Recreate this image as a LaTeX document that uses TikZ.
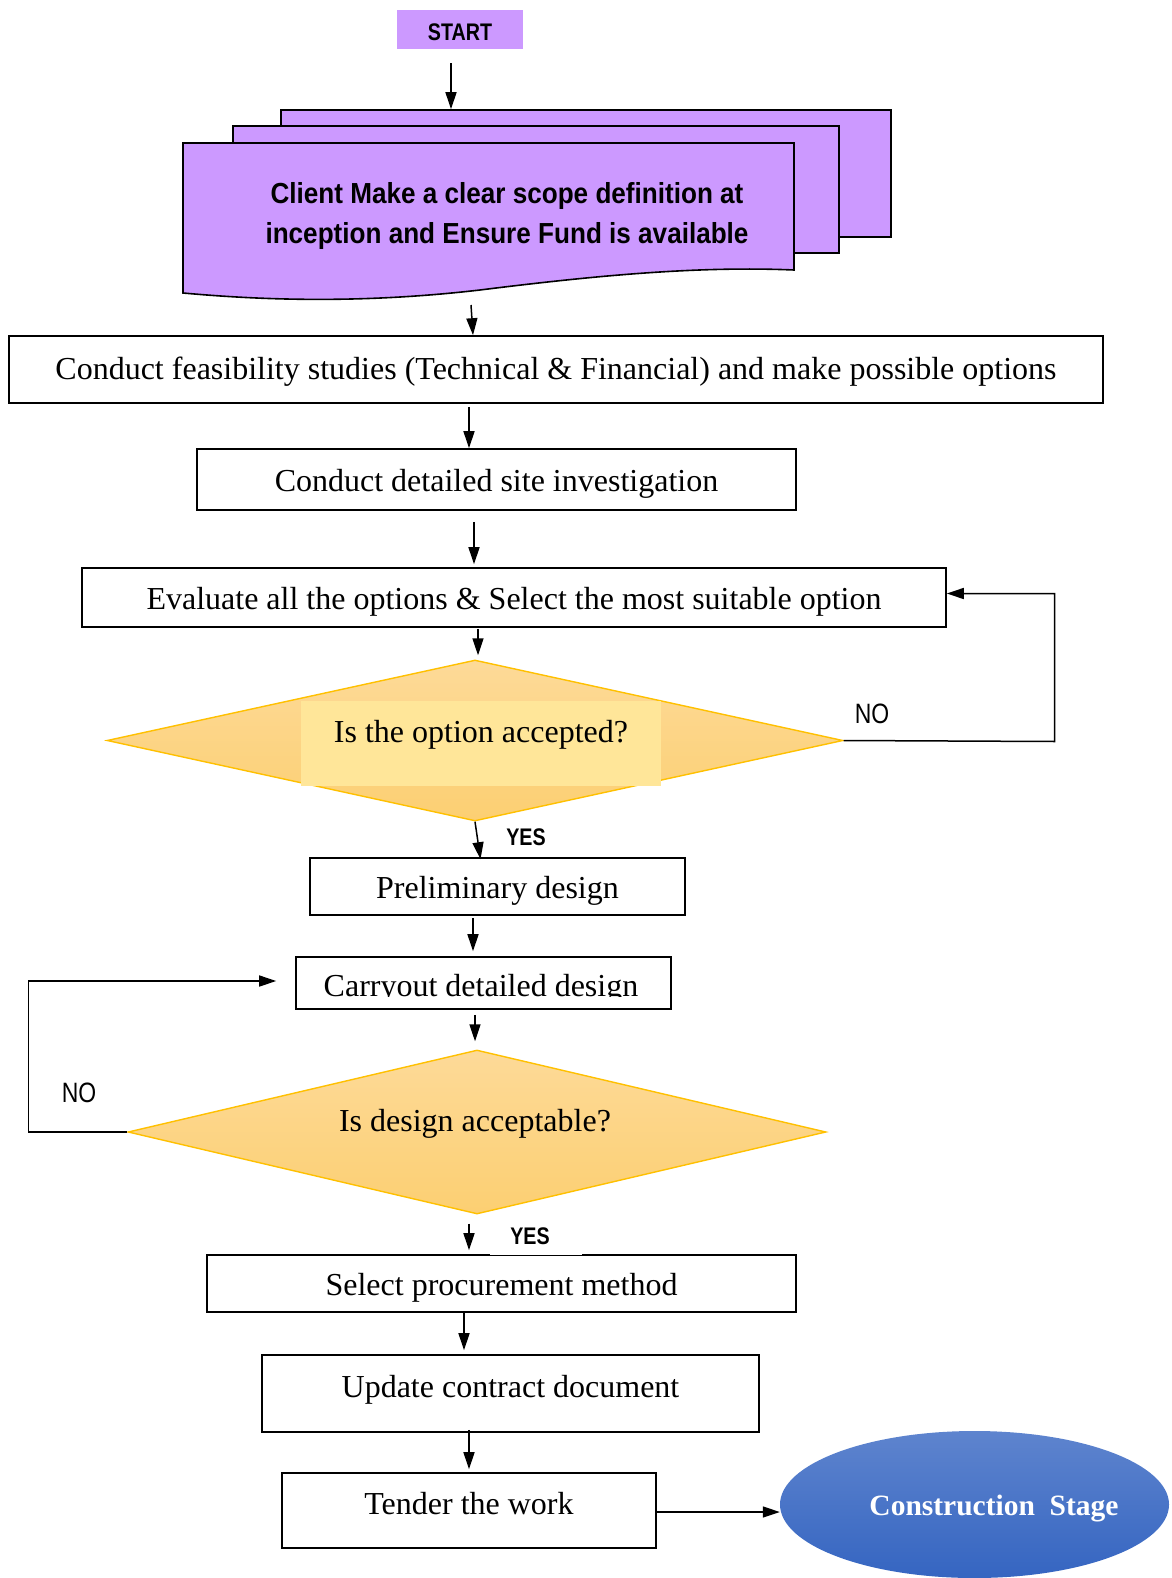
\documentclass[tikz,border=0pt]{standalone}
\usepackage{fontspec}
\setmainfont{Liberation Serif}
\newfontfamily\narrowsans[FakeStretch=0.82]{Liberation Sans}
\newfontfamily\docsans[FakeStretch=0.9]{Liberation Sans}
\usetikzlibrary{arrows.meta,shapes.geometric,calc}
\definecolor{purp}{HTML}{CC99FF}
\definecolor{goldline}{HTML}{FFC000}
\definecolor{dtop}{HTML}{FDDA98}
\definecolor{dbot}{HTML}{FCCF72}
\definecolor{inner}{HTML}{FFE699}
\definecolor{btop}{HTML}{5E84CE}
\definecolor{bbot}{HTML}{3565C1}
\tikzset{
  stepbox/.style={draw=black, line width=1.6pt, fill=white, inner sep=0pt,
    font=\fontsize{32}{36}\selectfont, text height=30pt, text depth=7pt},
  decision/.style={diamond, draw=goldline, line width=1.4pt, top color=dtop,
    bottom color=dbot, inner sep=0pt, aspect=4.5},
  arr/.style={line width=1.5pt, -{Triangle[length=17pt,width=11pt]}},
  docsheet/.style={draw=black, line width=1.6pt, fill=purp, inner sep=0pt},
  lbl/.style={font=\narrowsans\fontsize{28}{30}\selectfont, inner sep=0pt},
  lblb/.style={font=\narrowsans\bfseries\fontsize{24}{26}\selectfont, inner sep=0pt},
  qtext/.style={inner sep=0pt, font=\fontsize{32}{36}\selectfont},
}
\begin{document}
\begin{tikzpicture}[x=1pt,y=-1pt]
\useasboundingbox (0,0) rectangle (1171,1578);

% START
\node[fill=purp, minimum width=126pt, minimum height=39pt, inner sep=0pt,
  text height=23pt, text depth=0pt,
  font=\narrowsans\bfseries\fontsize{24}{26}\selectfont] (start) at (460,29.5) {START};

% multi-document
\node[docsheet, minimum width=610pt, minimum height=127pt] (docback) at (586,173.5) {};
\node[docsheet, minimum width=606pt, minimum height=127pt] (docmid) at (536,189.5) {};
\draw[line width=1.6pt, fill=purp] (183,143) -- (794,143) -- (794,270)
  .. controls (700,266) and (600,275) .. (480,290)
  .. controls (360,304) and (260,300) .. (183,293) -- cycle;
\node[align=center, inner sep=0pt, font=\docsans\bfseries\fontsize{29}{40}\selectfont]
  (client) at (507,216) {Client Make a clear scope definition at\\inception and Ensure Fund is available};
\coordinate (docbot) at (471,305);

% boxes
\node[stepbox, text height=26pt, minimum width=1094pt, minimum height=67pt] (feas) at (556,369.5)
  {Conduct feasibility studies (Technical \& Financial) and make possible options};
\node[stepbox, minimum width=599pt, minimum height=61pt] (site) at (496.5,479.5)
  {Conduct detailed site investigation};
\node[stepbox, minimum width=864pt, minimum height=59pt] (eval) at (514,597.5)
  {Evaluate all the options \& Select the most suitable option};

% decision 1
\node[decision, minimum width=736pt, minimum height=161pt] (dec1) at (475,740.5) {};
\node[fill=inner, minimum width=360pt, minimum height=85pt, inner sep=0pt] (dec1in) at (481,743.5) {};
\node[qtext] (dec1t) at (481,735) {Is the option accepted?};

\node[stepbox, minimum width=375pt, minimum height=57pt] (prelim) at (497.5,886.5)
  {Preliminary design};
\node[stepbox, minimum width=375pt, minimum height=52pt] (detail) at (483.5,983) {};
\begin{scope}
  \clip (296,957) rectangle (671,996);
  \node[qtext] (detailt) at (481,989) {Carryout detailed design};
\end{scope}

% decision 2
\node[decision, minimum width=698pt, minimum height=164pt] (dec2) at (477,1132) {};
\node[qtext] (dec2t) at (475,1124) {Is design acceptable?};

\node[stepbox, minimum width=589pt, minimum height=57pt] (proc) at (501.5,1283.5)
  {Select procurement method};
\node[stepbox, minimum width=497pt, minimum height=77pt, text depth=21.5pt] (update) at (510.5,1393.5)
  {Update contract document};
\node[stepbox, minimum width=374pt, minimum height=75pt, text depth=21.5pt] (tender) at (469,1510.5)
  {Tender the work};

% construction stage
\node[ellipse, minimum width=389pt, minimum height=147pt, inner sep=0pt,
  top color=btop, bottom color=bbot] (stage) at (974.5,1504.5) {};
\node[text=white, inner sep=0pt, font=\bfseries\fontsize{29.5}{32}\selectfont] (staget) at (994,1509)
  {Construction\ \ Stage};

% labels
\node[lbl] (no1) at (872,714) {NO};
\node[lbl] (no2) at (79,1093) {NO};
\node[lblb] (yes1) at (526,837) {YES};
\node[fill=white, minimum width=92pt, minimum height=38pt, inner sep=0pt, lblb] (yes2) at (536,1236) {\hspace*{-12pt}YES};

% connectors
\draw[arr] ($(start.south)+(-9,14)$) -- ($(start.south |- docback.north)+(-9,0)$);
\draw[arr] (docbot) -- ($(feas.north)+(-83,0)$);
\draw[arr] ($(feas.south)+(-87,3)$) -- ($(site.north)+(-27.5,0)$);
\draw[arr] ($(site.south)+(-22.5,11)$) -- ($(eval.north)+(-40,-3)$);
\draw[arr] ($(eval.south)+(-36,1)$) -- ($(dec1.north)+(3,-4)$);
\draw[arr] (dec1.south) -- ($(prelim.north)+(-17,2)$);
\draw[arr] ($(prelim.south)+(-24.5,2)$) -- ($(detail.north)+(-10.5,-5)$);
\draw[arr] ($(detail.south)+(-8.5,5)$) -- ($(dec2.north)+(-2,-8)$);
\draw[arr] ($(dec2.south)+(-8,9)$) -- ($(proc.north)+(-32.5,-4)$);
\draw[arr] ($(proc.south)+(-37.5,-1)$) -- ($(update.north)+(-46.5,-4)$);
\draw[arr] ($(update.south)+(-41.5,-3)$) -- ($(tender.north)+(0,-3)$);
\draw[arr] ($(tender.east)+(0,1.5)$) -- ($(tender.east -| stage.west)+(0,1.5)$);
\draw[arr] (dec1.east) -- ($(dec1.east)+(211,1)$) |- ($(eval.east)+(0,-4)$);
\draw[arr] (dec2.west) -- ($(dec2.west)+(-99,0)$) |- ($(detail.west)+(-19,-2)$);
\end{tikzpicture}
\end{document}
